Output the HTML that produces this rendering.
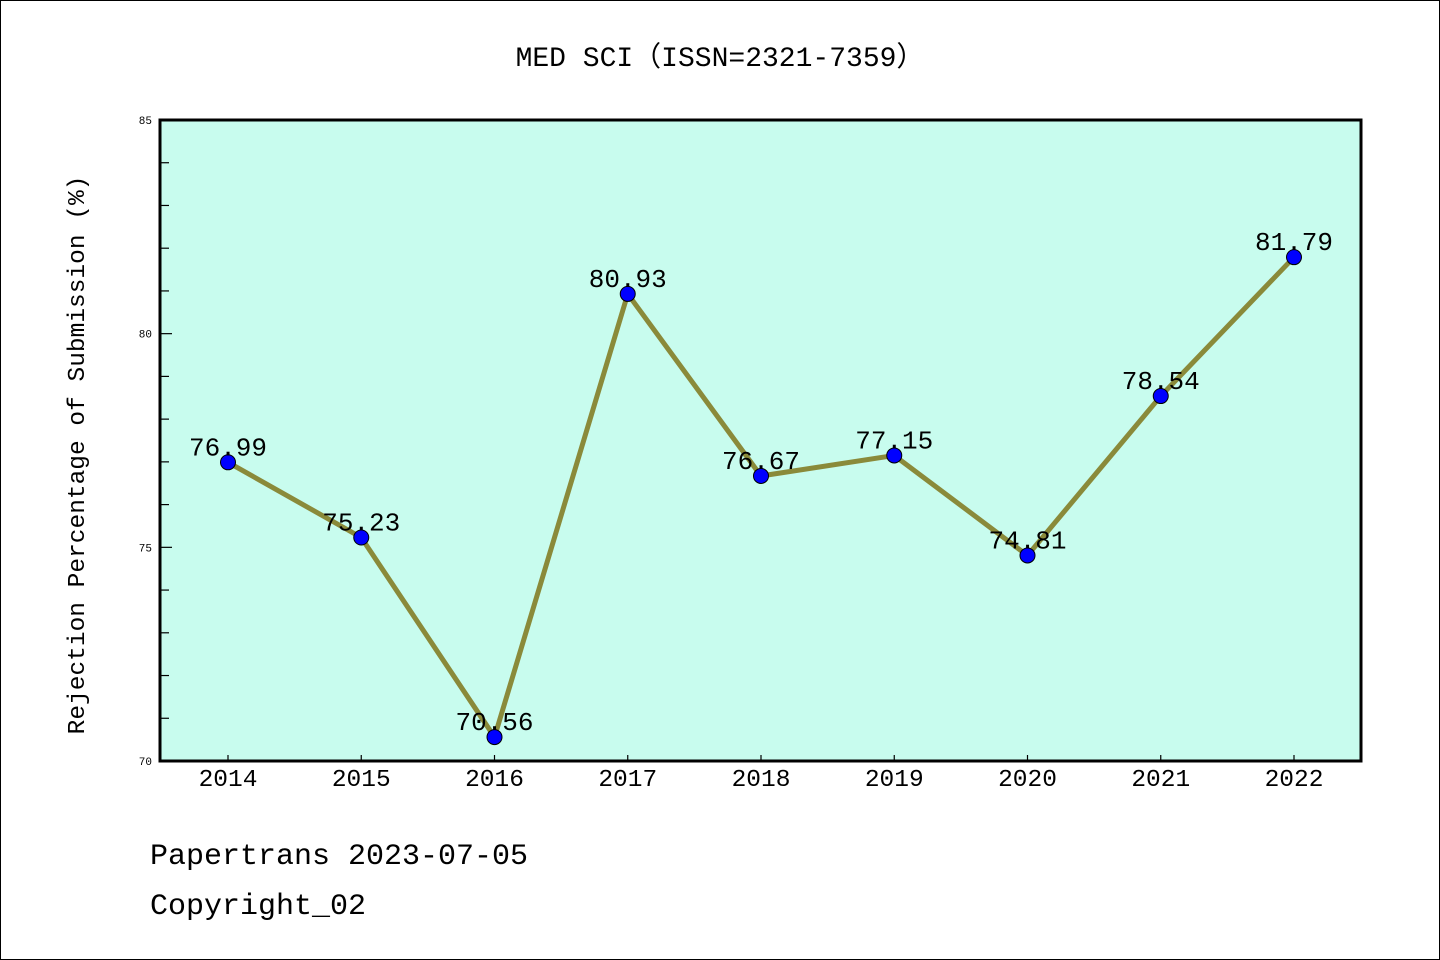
<!DOCTYPE html>
<html><head><meta charset="utf-8"><style>
html,body{margin:0;padding:0;background:#fff}
svg{display:block}
text{font-family:"WenQuanYi Zen Hei Mono","Liberation Mono",monospace}
</style></head><body>
<svg id="chart" width="1440" height="960" xmlns="http://www.w3.org/2000/svg">
<rect x="0.5" y="0.5" width="1439" height="959" fill="#fff" stroke="#000"/>
<text x="720" y="66" text-anchor="middle" font-size="28">MED SCI（ISSN=2321-7359）</text>
<rect x="160" y="120" width="1201" height="641" fill="#c8fcee"/>
<g id="ticks"></g>
<g id="series"></g>
<rect x="160" y="120" width="1201" height="641" fill="none" stroke="#000" stroke-width="3"/>
<text transform="translate(84,455) rotate(-90)" text-anchor="middle" font-size="24.5">Rejection Percentage of Submission (%)</text>
<text x="150" y="864" font-size="30">Papertrans 2023-07-05</text>
<text x="150" y="914" font-size="30">Copyright_02</text>
</svg>
<script>
const years=["2014","2015","2016","2017","2018","2019","2020","2021","2022"];
const values=[76.99,75.23,70.56,80.93,76.67,77.15,74.81,78.54,81.79];
const yTicks=[70,75,80,85];
const NS="http://www.w3.org/2000/svg";
const X0=160,X1=1361,Y0=761,Y1=120,YMIN=70,YMAX=85;
function xs(i){return 228+i*(1294-228)/(years.length-1);}
function ys(v){return Y0-(v-YMIN)/(YMAX-YMIN)*(Y0-Y1);}
function mk(tag,attrs,parent){const e=document.createElementNS(NS,tag);for(const k in attrs)e.setAttribute(k,attrs[k]);parent.appendChild(e);return e;}
const tg=document.getElementById('ticks'),sg=document.getElementById('series');
for(let v=YMIN;v<=YMAX;v+=1){
  const major=yTicks.includes(v);
  const t=mk('line',{x1:X0,x2:X0+(major?12:9),y1:ys(v),y2:ys(v),stroke:'#000','stroke-width':1.2},tg);
  
  
}
yTicks.forEach(v=>{
  const l=mk('text',{x:X0-8,y:ys(v)+4,'text-anchor':'end','font-size':11,'font-family':'Liberation Sans, sans-serif'},tg);
  l.textContent=v;
  
  
});
years.forEach((y,i)=>{
  const t=mk('line',{x1:xs(i),x2:xs(i),y1:Y0,y2:Y0-6,stroke:'#000','stroke-width':1.2},tg);
  
  
  const l=mk('text',{x:xs(i),y:Y0+25,'text-anchor':'middle','font-size':24.5},tg);
  l.textContent=y;
  
  
});
const pts=values.map((v,i)=>xs(i)+','+ys(v)).join(' ');
const line=mk('polyline',{points:pts,fill:'none',stroke:'#8a8a3a','stroke-width':5,'stroke-linejoin':'round'},sg);


values.forEach((v,i)=>{
  const c=mk('circle',{cx:xs(i),cy:ys(v),r:7.5,fill:'#0000ff',stroke:'#000','stroke-width':1},sg);
  
  
  const l=mk('text',{x:xs(i),y:ys(v)-7,'text-anchor':'middle','font-size':26},sg);
  l.textContent=v.toFixed(2);
  
  
});
</script>
</body></html>
